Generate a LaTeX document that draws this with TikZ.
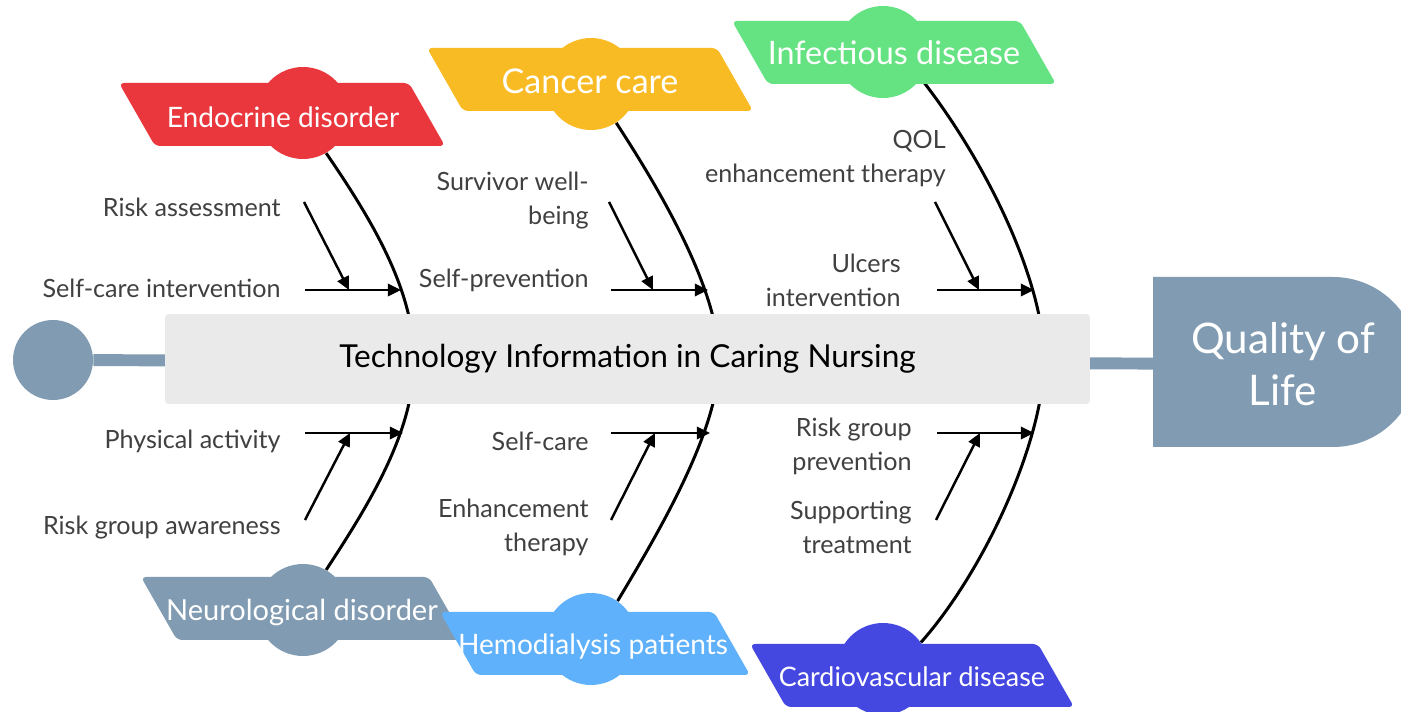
\documentclass[tikz,border=0pt]{standalone}
\usepackage{fontspec}
\setmainfont{Lato}
\usetikzlibrary{arrows.meta,backgrounds}
\definecolor{endored}{RGB}{233,55,61}
\definecolor{canceryellow}{RGB}{249,187,35}
\definecolor{infgreen}{RGB}{101,227,130}
\definecolor{tailblue}{RGB}{129,156,178}
\definecolor{hemoblue}{RGB}{94,177,250}
\definecolor{cardindigo}{RGB}{69,71,225}
\definecolor{boxgrey}{RGB}{234,234,234}
\definecolor{causegrey}{RGB}{64,64,64}
\begin{document}
\begin{tikzpicture}[x=0.02cm,y=-0.02cm]
            \tikzstyle{bump}=[circle,inner sep=0pt,minimum size=1.84cm]
            \tikzstyle{tagtext}=[text=white,inner sep=0pt]
            \tikzstyle{cause}=[text=causegrey,inner sep=0pt,anchor=east,align=right,font=\fontsize{14.3}{19.3}\selectfont]
            \tikzstyle{bone}=[line width=1.7pt]
            \tikzstyle{arr}=[line width=1.4pt,-{Triangle[length=7.5pt,width=7pt]}]
            \useasboundingbox (0,0) rectangle (1401,712);
            \clip (0,0) rectangle (1401,712);

            \node[circle,fill=tailblue,inner sep=0pt,minimum size=1.6cm] (tail) at (53,360) {};
            \fill[tailblue] (1153,277) -- (1333,277) .. controls (1380,277) and (1418,315) .. (1418,362)
                .. controls (1418,409) and (1380,447) .. (1333,447) -- (1153,447) -- cycle;
            \node[text=white,align=center,inner sep=0pt,font=\fontsize{24}{29.5}\selectfont] (QoL) at (1283,364) {Quality of\\Life};
            \node[fill=boxgrey,rounded corners=2pt,minimum width=18.5cm,minimum height=1.8cm,font=\fontsize{18}{22}\selectfont] (core) at (627.5,359) {Technology Information in Caring Nursing};

            \foreach \nm/\xl/\yt/\wl/\cx/\cy/\tx/\ty/\fs/\col/\txt in {endo/119/83/290/303/113/283/117/16/endored/Endocrine disorder,
                canc/427/48/290/591/84/590/81/19.4/canceryellow/Cancer care,
                infe/732/21/288/883/52/894/53/18.4/infgreen/Infectious disease,
                neur/141/577/288/303/610/302/612/16.5/tailblue/Neurological disorder,
                hemo/440/612/274/591/639/593/647/16/hemoblue/Hemodialysis patients,
                card/750/644/288/883/669/912/677/15.3/cardindigo/Cardiovascular disease}
            {
                \node[bump,fill=\col] (C-\nm) at (\cx,\cy) {};
                \fill[\col,rounded corners=3pt] (\xl,\yt) -- ++(\wl,0) -- ++(36,63) -- ++(-\wl,0) -- cycle;
                \node[tagtext,font=\fontsize{\fs}{22}\selectfont] (L-\nm) at (\tx,\ty) {\txt};
            }

            \begin{scope}[on background layer]
                \fill[white] (0,0) rectangle (1401,712);
                \draw[tailblue,line width=6.8pt] (tail) -- (QoL);
                \draw[bone] (C-endo.-60) .. controls (372,220) and (414,290) .. (414,360) .. controls (414,430) and (372,500) .. (C-neur.60);
                \draw[bone] (C-canc.-57) .. controls (660,190) and (719,290) .. (719,360) .. controls (719,430) and (660,530) .. (C-hemo.55);
                \draw[bone] (C-infe.-35) .. controls (985,160) and (1044,280) .. (1044,360) .. controls (1044,440) and (985,570) .. (C-card.35);
            \end{scope}

            \foreach \a/\xa/\ya/\xb/\yb in {h1/305/290/401/290, h2/305/433/403/433, h3/611/290/708/290,
                h4/611/433/710/433, h5/937/290/1034/290, h6/937/433/1034/433,
                d1/304/202/349/290, d2/305/520/350/433, d3/609/202/653/290,
                d4/611/520/655/433, d5/935/202/979/290, d6/936/520/980/433}
            {
                \coordinate (A-\a) at (\xa,\ya);
                \coordinate (B-\a) at (\xb,\yb);
                \draw[arr] (A-\a) -- (B-\a);
            }

            \foreach \nm/\x/\y/\txt in {ra/281/207/Risk assessment, sci/281/288/Self-care intervention,
                pa/281/441/Physical activity, rga/281/528/Risk group awareness,
                swb/589/201/Survivor well-\\being, sp/589/280/Self-prevention,
                sc/589/441/Self-care, et/589/527/Enhancement\\therapy,
                qol/946/159/QOL\\enhancement therapy, ui/901/280/Ulcers\\intervention,
                rgp/912/446/Risk group\\prevention, st/912/527/Supporting\\treatment}
                \node[cause] (T-\nm) at (\x,\y) {\txt};
\end{tikzpicture}
\end{document}
